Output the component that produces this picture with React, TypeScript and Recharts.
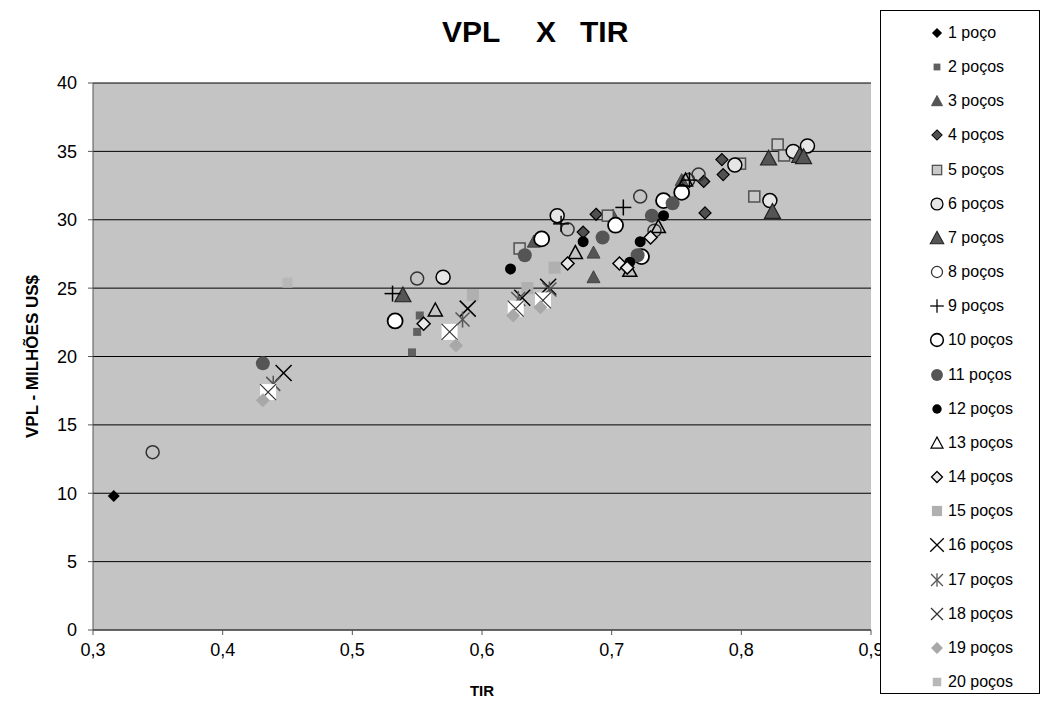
import { ScatterChart, Scatter, XAxis, YAxis, CartesianGrid, Label } from "recharts"

const font = "'Liberation Sans', Arial, sans-serif"

const seriesNames = [
  "1 poço", "2 poços", "3 poços", "4 poços", "5 poços", "6 poços", "7 poços",
  "8 poços", "9 poços", "10 poços", "11 poços", "12 poços", "13 poços", "14 poços",
  "15 poços", "16 poços", "17 poços", "18 poços", "19 poços", "20 poços",
]

const xTicks = [0.3, 0.4, 0.5, 0.6, 0.7, 0.8, 0.9]
const yTicks = [0, 5, 10, 15, 20, 25, 30, 35, 40]

// [TIR, VPL]
const p1 = [[0.316, 9.8]]
const p2 = [[0.546, 20.3], [0.55, 21.8], [0.552, 23.0]]
const p3 = [[0.64, 28.4], [0.686, 27.6], [0.686, 25.8], [0.701, 30.3], [0.754, 32.9]]
const p4 = [[0.678, 29.1], [0.688, 30.4], [0.771, 32.8], [0.772, 30.5], [0.785, 34.4], [0.786, 33.3]]
const p5 = [[0.629, 27.9], [0.697, 30.3], [0.799, 34.1], [0.81, 31.7], [0.828, 35.5], [0.833, 34.7]]
const p6 = [[0.57, 25.8], [0.658, 30.3], [0.795, 34.0], [0.822, 31.4], [0.84, 35.0], [0.851, 35.4]]
const p7 = [[0.539, 24.5], [0.821, 34.5], [0.845, 34.7], [0.848, 34.6], [0.824, 30.6]]
const p8 = [[0.346, 13.0], [0.55, 25.7], [0.666, 29.3], [0.722, 31.7], [0.733, 29.2], [0.759, 32.9], [0.767, 33.3]]
const p9 = [[0.531, 24.6], [0.661, 29.7], [0.709, 30.9], [0.76, 32.9]]
const p10 = [[0.533, 22.6], [0.646, 28.6], [0.703, 29.6], [0.723, 27.3], [0.74, 31.4], [0.754, 32.0]]
const p11 = [[0.431, 19.5], [0.633, 27.4], [0.693, 28.7], [0.72, 27.4], [0.731, 30.3], [0.747, 31.2]]
const p12 = [[0.622, 26.4], [0.678, 28.4], [0.714, 26.9], [0.722, 28.4], [0.74, 30.3]]
const p13 = [[0.564, 23.4], [0.672, 27.6], [0.714, 26.3], [0.736, 29.5], [0.757, 32.9]]
const p14 = [[0.555, 22.4], [0.666, 26.8], [0.706, 26.8], [0.712, 26.5], [0.73, 28.7]]
const p15 = [[0.593, 24.5], [0.635, 25.0], [0.656, 26.5]]
const p16 = [[0.447, 18.8], [0.589, 23.5], [0.631, 24.3], [0.651, 25.1]]
const p17 = [[0.439, 18.0], [0.585, 22.7], [0.628, 24.2], [0.652, 24.9]]
const p18 = [[0.435, 17.4], [0.575, 21.8], [0.626, 23.5], [0.647, 24.1]]
const p19 = [[0.431, 16.8], [0.58, 20.8], [0.624, 23.0], [0.645, 23.6]]
const p20 = [[0.45, 25.4]]

const allSeries = [p1, p2, p3, p4, p5, p6, p7, p8, p9, p10, p11, p12, p13, p14, p15, p16, p17, p18, p19, p20]

function Marker({ kind, cx, cy }: { kind: number; cx: number; cy: number }) {
  const diamond = (r: number) => `M${cx},${cy - r}L${cx + r},${cy}L${cx},${cy + r}L${cx - r},${cy}Z`
  const tri = (r: number) => `M${cx},${cy - r}L${cx + r},${cy + r * 0.85}L${cx - r},${cy + r * 0.85}Z`
  switch (kind) {
    case 1:
      return <path d={diamond(6)} fill="#000" />
    case 2:
      return <rect x={cx - 4} y={cy - 4} width={8} height={8} fill="#606060" />
    case 3:
      return <path d={tri(6.5)} fill="#555" stroke="#444" strokeWidth={1} />
    case 4:
      return <path d={diamond(6)} fill="#505050" stroke="#000" strokeWidth={1.2} />
    case 5:
      return <rect x={cx - 5.5} y={cy - 5.5} width={11} height={11} fill="#c9c9c9" stroke="#505050" strokeWidth={1.5} />
    case 6:
      return <circle cx={cx} cy={cy} r={7} fill="#e6e6e6" stroke="#000" strokeWidth={1.5} />
    case 7:
      return <path d={tri(8)} fill="#555" stroke="#222" strokeWidth={1.2} />
    case 8:
      return <circle cx={cx} cy={cy} r={6.5} fill="none" stroke="#333" strokeWidth={1.5} />
    case 9:
      return (
        <g stroke="#000" strokeWidth={1.5}>
          <line x1={cx - 8} y1={cy} x2={cx + 8} y2={cy} />
          <line x1={cx} y1={cy - 8} x2={cx} y2={cy + 8} />
        </g>
      )
    case 10:
      return <circle cx={cx} cy={cy} r={7.5} fill="#fff" stroke="#000" strokeWidth={1.8} />
    case 11:
      return <circle cx={cx} cy={cy} r={7} fill="#555" />
    case 12:
      return <circle cx={cx} cy={cy} r={5.5} fill="#000" />
    case 13:
      return <path d={tri(7)} fill="none" stroke="#000" strokeWidth={1.5} />
    case 14:
      return <path d={diamond(6.5)} fill="#e8e8e8" stroke="#000" strokeWidth={1.5} />
    case 15:
      return <rect x={cx - 6} y={cy - 6} width={12} height={12} fill="#b0b0b0" />
    case 16:
      return (
        <g stroke="#000" strokeWidth={1.5}>
          <line x1={cx - 8} y1={cy - 8} x2={cx + 8} y2={cy + 8} />
          <line x1={cx - 8} y1={cy + 8} x2={cx + 8} y2={cy - 8} />
        </g>
      )
    case 17:
      return (
        <g stroke="#555" strokeWidth={1.5}>
          <line x1={cx - 7} y1={cy - 7} x2={cx + 7} y2={cy + 7} />
          <line x1={cx - 7} y1={cy + 7} x2={cx + 7} y2={cy - 7} />
          <line x1={cx} y1={cy - 8} x2={cx} y2={cy + 8} />
        </g>
      )
    case 18:
      return (
        <g>
          <rect x={cx - 8} y={cy - 8} width={16} height={16} fill="#fff" />
          <line x1={cx - 8} y1={cy - 8} x2={cx + 8} y2={cy + 8} stroke="#333" strokeWidth={1.2} />
          <line x1={cx - 8} y1={cy + 8} x2={cx + 8} y2={cy - 8} stroke="#333" strokeWidth={1.2} />
        </g>
      )
    case 19:
      return <path d={diamond(7)} fill="#a8a8a8" />
    default:
      return <rect x={cx - 5} y={cy - 5} width={10} height={10} fill="#b8b8b8" />
  }
}

function LegendIcon({ kind }: { kind: number }) {
  return (
    <svg width={18} height={18} style={{ display: "block" }}>
      {kind === 18 ? (
        <g stroke="#333" strokeWidth={1.2}>
          <line x1={3} y1={3} x2={15} y2={15} />
          <line x1={3} y1={15} x2={15} y2={3} />
        </g>
      ) : (
        <g transform="translate(9,9) scale(0.85) translate(-9,-9)">
          <Marker kind={kind} cx={9} cy={9} />
        </g>
      )}
    </svg>
  )
}

const titleStyle = { position: "absolute" as const, top: 15, fontSize: 30, fontWeight: "bold" as const }

export default function App() {
  return (
    <div style={{ position: "absolute", left: 0, top: 0, width: 1044, height: 706, background: "#fff", fontFamily: font }}>
      <span style={{ ...titleStyle, left: 442 }}>VPL</span>
      <span style={{ ...titleStyle, left: 536 }}>X</span>
      <span style={{ ...titleStyle, left: 580 }}>TIR</span>
      <ScatterChart width={1044} height={706} margin={{ top: 83, right: 173, bottom: 0, left: 0 }}>
        <CartesianGrid horizontal vertical={false} stroke="#000" fill="#c4c4c4" fillOpacity={1} />
        <XAxis
          type="number"
          dataKey="x"
          domain={[0.3, 0.9]}
          ticks={xTicks}
          tickFormatter={(v: number) => v.toFixed(1).replace(".", ",")}
          height={76}
          axisLine={{ stroke: "#555" }}
          tickLine={{ stroke: "#555" }}
          tickSize={5}
          tickMargin={8}
          tick={{ fill: "#000", fontSize: 18, fontFamily: font }}
          allowDataOverflow
        >
          <Label value="TIR" position="insideBottom" offset={10} style={{ fontWeight: "bold", fontSize: 15, fill: "#000", fontFamily: font }} />
        </XAxis>
        <YAxis
          type="number"
          dataKey="y"
          domain={[0, 40]}
          ticks={yTicks}
          width={93}
          axisLine={{ stroke: "#555" }}
          tickLine={{ stroke: "#555" }}
          tickSize={5}
          tickMargin={11}
          tick={{ fill: "#000", fontSize: 18, fontFamily: font }}
        >
          <Label
            value="VPL - MILHÕES US$"
            angle={-90}
            position="insideLeft"
            offset={32}
            style={{ textAnchor: "middle", fontWeight: "bold", fontSize: 17, fill: "#000", fontFamily: font }}
          />
        </YAxis>
        {allSeries.map((s, i) => (
          <Scatter
            key={i}
            name={seriesNames[i]}
            data={s.map(([x, y]) => ({ x, y }))}
            isAnimationActive={false}
            shape={(props: any) => <Marker kind={i + 1} cx={props.cx} cy={props.cy} />}
          />
        ))}
      </ScatterChart>
      <div
        style={{
          position: "absolute",
          left: 880,
          top: 10,
          width: 160,
          height: 684,
          border: "1px solid #000",
          boxSizing: "border-box",
          background: "#fff",
        }}
      >
        {seriesNames.map((n, i) => (
          <div
            key={n}
            style={{
              position: "absolute",
              left: 47,
              top: 11 + i * 34.16,
              height: 22,
              display: "flex",
              alignItems: "center",
              fontSize: 16,
            }}
          >
            <LegendIcon kind={i + 1} />
            <span style={{ marginLeft: 2 }}>{n}</span>
          </div>
        ))}
      </div>
    </div>
  )
}
